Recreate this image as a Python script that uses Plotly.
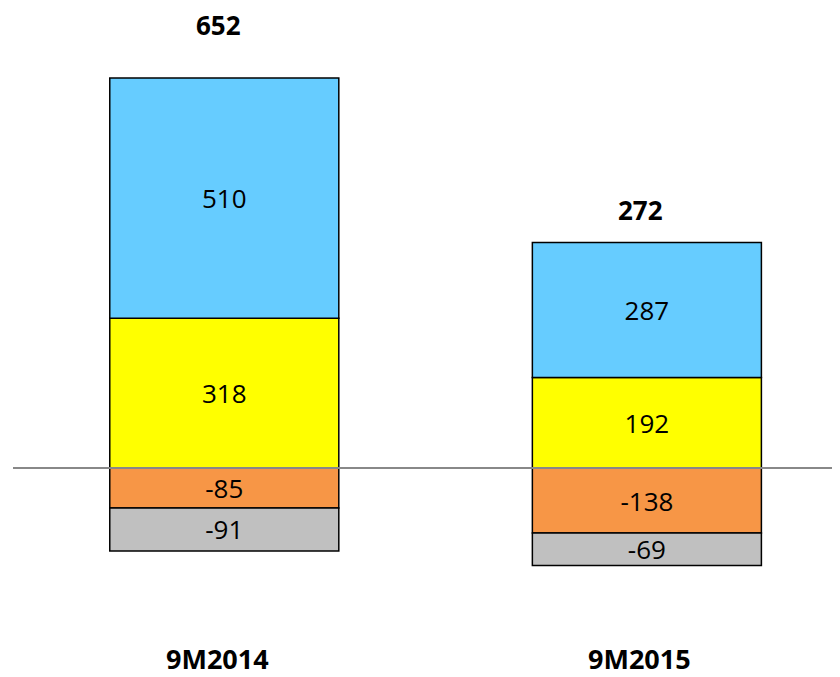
import plotly.graph_objects as go

categories = ["9M2014", "9M2015"]
blue_vals = [510, 287]
yellow_vals = [318, 192]
orange_vals = [-85, -138]
gray_vals = [-91, -69]
total_labels = [652, 272]
total_shift = [53, 32]

FONT = "Open Sans"
x = [0, 1]

fig = go.Figure()

def add(vals, color):
    fig.add_trace(go.Bar(
        x=x, y=vals, width=0.542,
        marker=dict(color=color, line=dict(color="black", width=1.5)),
        text=[str(v) for v in vals], textposition="inside",
        insidetextanchor="middle", textangle=0, constraintext="none",
        textfont=dict(family=FONT, size=26, color="black"),
        hoverinfo="skip", showlegend=False,
    ))

add(yellow_vals, "#FFFF00")
add(blue_vals, "#66CCFF")
add(orange_vals, "#F79646")
add(gray_vals, "#C0C0C0")

for i, cat in enumerate(categories):
    pos = yellow_vals[i] + blue_vals[i]
    fig.add_annotation(x=x[i], y=pos, text=f"<b>{total_labels[i]}</b>", showarrow=False,
                       yanchor="middle", yshift=total_shift[i], xshift=-6,
                       font=dict(family=FONT, size=26, color="black"))
    fig.add_annotation(x=x[i], y=0, yref="paper", text=f"<b>{cat}</b>", showarrow=False,
                       yanchor="middle", yshift=19, xshift=-7,
                       font=dict(family=FONT, size=27, color="black"))

fig.add_shape(type="line", xref="paper", x0=0, x1=1, yref="y", y0=0, y1=0,
              line=dict(color="#888888", width=2), layer="above")

fig.update_layout(
    width=832, height=669, barmode="relative",
    margin=dict(l=5, r=0, t=0, b=0),
    paper_bgcolor="white", plot_bgcolor="white",
    xaxis=dict(range=[-0.5, 1.457], visible=False),
    yaxis=dict(range=[-443.7, 976.6], visible=False),
)

fig.write_html("out.html")
